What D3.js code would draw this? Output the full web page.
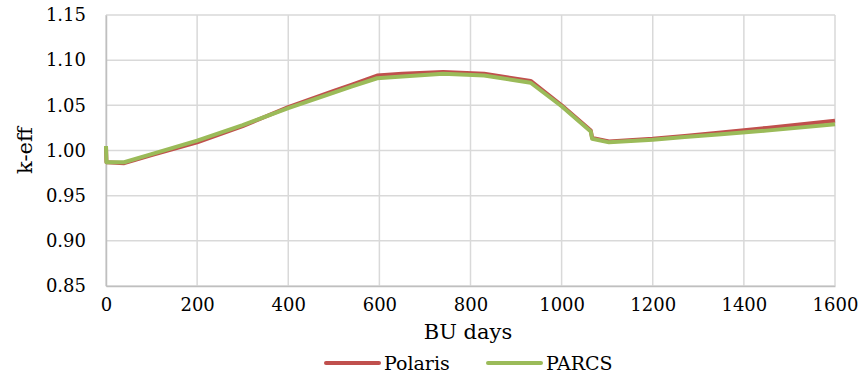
<!DOCTYPE html>
<html>
<head>
<meta charset="utf-8">
<script src="https://cdn.jsdelivr.net/npm/d3@7"></script>
<style>
  body { margin: 0; background: #fff; }
  text { font-family: "DejaVu Serif", serif; fill: #000; }
</style>
</head>
<body>
<script>
// burnup days and k-eff
const polarisDays = [0, 1, 40, 100, 200, 300, 400, 500, 540, 595, 650, 740, 830, 932, 1000, 1064, 1067, 1104, 1200, 1270, 1350, 1450, 1600];
const polarisKeff = [1.004, 0.987, 0.986, 0.995, 1.009, 1.027, 1.048, 1.066, 1.073, 1.083, 1.085, 1.087, 1.085, 1.077, 1.050, 1.022, 1.014, 1.010, 1.013, 1.016, 1.020, 1.025, 1.033];
const parcsDays = [0, 1, 40, 100, 200, 300, 400, 500, 540, 595, 650, 740, 830, 932, 1000, 1064, 1067, 1104, 1200, 1270, 1350, 1450, 1600];
const parcsKeff = [1.005, 0.987, 0.987, 0.996, 1.011, 1.028, 1.047, 1.064, 1.071, 1.080, 1.082, 1.085, 1.083, 1.075, 1.049, 1.021, 1.013, 1.009, 1.012, 1.015, 1.018, 1.022, 1.029];
const xTicks = [0, 200, 400, 600, 800, 1000, 1200, 1400, 1600];
const yTicks = [0.85, 0.90, 0.95, 1.00, 1.05, 1.10, 1.15];
const seriesNames = ['Polaris', 'PARCS'];
const seriesColors = ['#c0504d', '#9bbb59'];

const W = 862, H = 373;
const plotL = 106, plotR = 835, plotT = 15, plotB = 286;

const svg = d3.select('body').append('svg')
  .attr('width', W)
  .attr('height', H);

const x = d3.scaleLinear().domain([0, 1600]).range([plotL, plotR]);
const y = d3.scaleLinear().domain([0.85, 1.15]).range([plotB, plotT]);

// grid
svg.append('g')
  .selectAll('line')
  .data(yTicks)
  .enter().append('line')
  .attr('x1', plotL).attr('x2', plotR)
  .attr('y1', d => y(d)).attr('y2', d => y(d))
  .attr('stroke', '#d9d9d9').attr('stroke-width', 1.5);

svg.append('g')
  .selectAll('line')
  .data(xTicks)
  .enter().append('line')
  .attr('x1', d => x(d)).attr('x2', d => x(d))
  .attr('y1', plotT).attr('y2', plotB)
  .attr('stroke', '#d9d9d9').attr('stroke-width', 1.5);

// axes
const xAxis = d3.axisBottom(x).tickValues(xTicks).tickSize(0).tickPadding(12).tickFormat(d3.format('d'));
const gx = svg.append('g')
  .attr('transform', `translate(0, ${plotB})`)
  .call(xAxis);
gx.select('.domain').attr('stroke', '#bfbfbf').attr('stroke-width', 1.5);
gx.selectAll('text').style('font-size', '18px').style('font-family', '"DejaVu Serif", serif');

const yAxis = d3.axisLeft(y).tickValues(yTicks).tickSize(0).tickPadding(20).tickFormat(d3.format('.2f'));
const gy = svg.append('g')
  .attr('transform', `translate(${plotL}, 0)`)
  .call(yAxis);
gy.select('.domain').attr('stroke', '#bfbfbf').attr('stroke-width', 1.5);
gy.selectAll('text').style('font-size', '18px').style('font-family', '"DejaVu Serif", serif');

// series
const line = d3.line().x(d => x(d[0])).y(d => y(d[1]));
const series = [
  d3.zip(polarisDays, polarisKeff),
  d3.zip(parcsDays, parcsKeff)
];
series.forEach((s, i) => {
  svg.append('path')
    .datum(s)
    .attr('fill', 'none')
    .attr('stroke', seriesColors[i])
    .attr('stroke-width', 4)
    .attr('stroke-linejoin', 'round')
    .attr('d', line);
});

// axis titles
svg.append('text')
  .attr('transform', `translate(32, ${(plotT + plotB) / 2}) rotate(-90)`)
  .attr('text-anchor', 'middle')
  .style('font-size', '21px')
  .text('k-eff');

svg.append('text')
  .attr('x', 468).attr('y', 339)
  .attr('text-anchor', 'middle')
  .style('font-size', '21px')
  .text('BU days');

// legend
const legendX = [326, 488];
seriesNames.forEach((name, i) => {
  const g = svg.append('g').attr('transform', `translate(${legendX[i]}, 363)`);
  g.append('line')
    .attr('x1', 0).attr('x2', 53)
    .attr('stroke', seriesColors[i])
    .attr('stroke-width', 4)
    .attr('stroke-linecap', 'round');
  g.append('text')
    .attr('x', 58).attr('y', 7)
    .style('font-size', '19px')
    .text(name);
});
</script>
</body>
</html>
